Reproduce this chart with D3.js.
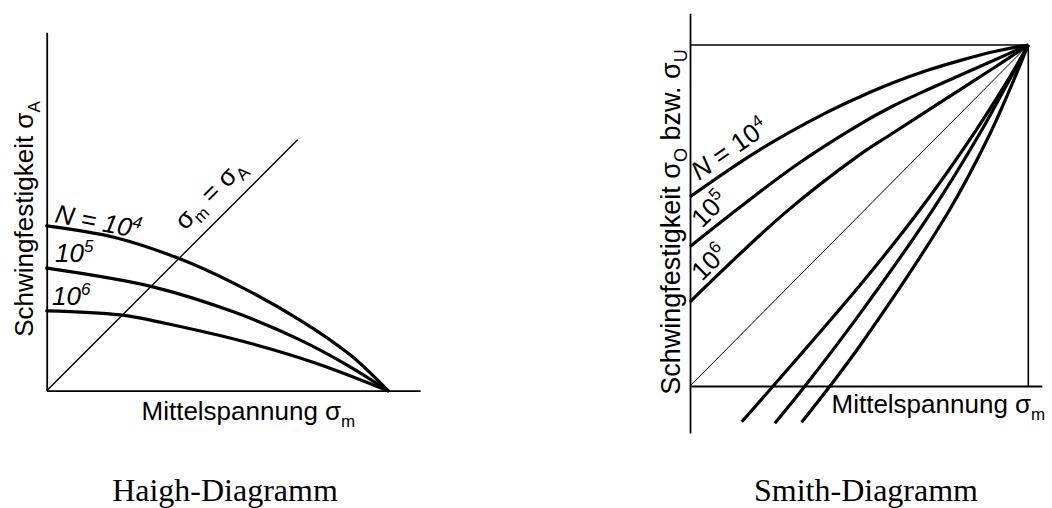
<!DOCTYPE html>
<html><head><meta charset="utf-8">
<script src="https://cdn.jsdelivr.net/npm/d3@7"></script>
<style>html,body{margin:0;padding:0;background:#fff;} svg{display:block}</style>
</head><body>
<svg id="c" width="1052" height="508"></svg>
<script>
// ---------- Haigh diagram data (σm, σA) ----------
const haighN4 = [[0,48.3],[20,44.9],[38.6,38.8],[54.6,31.6],[74.2,20.7],[88.9,10.5],[100,0]];
const haighN5 = [[0,35.9],[30.8,30.5],[54.7,23.1],[74.2,14.9],[88.9,7.0],[100,0]];
const haighN6 = [[0,23.4],[21.5,22.2],[39.1,18.8],[59.6,13.9],[79.1,8.0],[100,0]];
const haighDiag = [[0,0],[73.5,73.5]];
// ---------- Smith diagram data (σm, σO / σU) ----------
const smithUpper4 = [[0,55.5],[20,68.9],[40,80.0],[50,84.7],[60,88.9],[70,92.5],[80,95.5],[90,98.1],[100,100]];
const smithUpper5 = [[0,40.9],[31.0,64.5],[50.3,76.8],[60,82.1],[70,86.8],[80,91.2],[90,95.6],[100,100]];
const smithUpper6 = [[0,24.7],[28,50.7],[50,67.7],[60,74.2],[70,80.6],[80,87.0],[90,93.4],[100,100]];
const smithLower4 = [[15.3,-10.5],[24.6,0],[50.3,29.6],[67.9,51.6],[83.6,73.6],[93.1,88.3],[100,100]];
const smithLower5 = [[25.1,-10.9],[34.0,0],[50.3,21.3],[71.7,51.6],[85.4,73.6],[93.6,88.3],[100,100]];
const smithLower6 = [[33.0,-10.6],[41.4,0],[50.8,12.6],[76.7,51.6],[88.5,73.6],[95.1,88.3],[100,100]];
const smithDiag = [[0,0],[100,100]];
// ---------- texts ----------
const cycleExponents = ["4","5","6"];
const xTitle = "Mittelspannung";
const yTitle = "Schwingfestigkeit";
const captions = ["Haigh-Diagramm","Smith-Diagramm"];

const SANS = "'Liberation Sans', Arial, Helvetica, sans-serif";
const SERIF = "'Liberation Serif', 'Times New Roman', serif";
const svg = d3.select("#c");

// ================= HAIGH =================
{
  const x = d3.scaleLinear().domain([0,100]).range([46.7,388]);
  const y = d3.scaleLinear().domain([0,100]).range([390.7,49.4]);
  const g = svg.append("g");
  const line = d3.line().x(d=>x(d[0])).y(d=>y(d[1])).curve(d3.curveCatmullRom.alpha(0.5));

  const xa = d3.scaleLinear().domain([0,109.4]).range([x(0), x(109.4)]);
  const ya = d3.scaleLinear().domain([0,105]).range([y(0), y(105)]);
  g.append("g").attr("transform",`translate(0,${y(0)})`)
    .call(d3.axisBottom(xa).tickValues([]).tickSizeOuter(0))
    .select(".domain").attr("stroke","#000").attr("stroke-width",1.8);
  g.append("g").attr("transform",`translate(${x(0)},0)`)
    .call(d3.axisLeft(ya).tickValues([]).tickSizeOuter(0))
    .select(".domain").attr("stroke","#000").attr("stroke-width",1.8);

  g.append("path").datum(haighDiag).attr("d", d3.line().x(d=>x(d[0])).y(d=>y(d[1])))
    .attr("fill","none").attr("stroke","#000").attr("stroke-width",1.4);
  [haighN4, haighN5, haighN6].forEach(s=>{
    g.append("path").datum(s).attr("d", line)
      .attr("fill","none").attr("stroke","#000").attr("stroke-width",3.2).attr("stroke-linecap","round");
  });

  const t4 = g.append("text").attr("font-family",SANS).attr("font-size",26).attr("font-style","italic")
    .attr("transform","translate(54,222) rotate(11)");
  t4.append("tspan").text("N = 10");
  t4.append("tspan").attr("dy",-10).attr("font-size",17).text(cycleExponents[0]);
  [[55,262,cycleExponents[1]],[52,305,cycleExponents[2]]].forEach(([lx,ly,e])=>{
    const t = g.append("text").attr("font-family",SANS).attr("font-size",26).attr("font-style","italic")
      .attr("x",lx).attr("y",ly);
    t.append("tspan").text("10");
    t.append("tspan").attr("dy",-10).attr("font-size",17).text(e);
  });
  const td = g.append("text").attr("font-family",SANS).attr("font-size",26)
    .attr("transform","translate(185,231) rotate(-45)");
  td.append("tspan").text("σ");
  td.append("tspan").attr("dy",6).attr("font-size",17).text("m");
  td.append("tspan").attr("dy",-6).text(" = σ");
  td.append("tspan").attr("dy",6).attr("font-size",17).text("A");

  const xt = g.append("text").attr("font-family",SANS).attr("font-size",26).attr("x",141.5).attr("y",420);
  xt.append("tspan").text(xTitle+" σ");
  xt.append("tspan").attr("dy",7).attr("font-size",17).text("m");
  const yt = g.append("text").attr("font-family",SANS).attr("font-size",26)
    .attr("text-anchor","middle").attr("transform","translate(33,219) rotate(-90)");
  yt.append("tspan").text(yTitle+" σ");
  yt.append("tspan").attr("dy",7).attr("font-size",17).text("A");

  g.append("text").attr("font-family",SERIF).attr("font-size",32).attr("text-anchor","middle")
    .attr("x",225).attr("y",501).text(captions[0]);
}

// ================= SMITH =================
{
  const x = d3.scaleLinear().domain([0,100]).range([690,1028.3]);
  const y = d3.scaleLinear().domain([0,100]).range([386,45]);
  const g = svg.append("g");
  const line = d3.line().x(d=>x(d[0])).y(d=>y(d[1])).curve(d3.curveCatmullRom.alpha(0.5));
  const straight = d3.line().x(d=>x(d[0])).y(d=>y(d[1]));

  const xa = d3.scaleLinear().domain([0,104]).range([x(0), x(104)]);
  const ya = d3.scaleLinear().domain([-13.8,109.3]).range([y(-13.8), y(109.3)]);
  g.append("g").attr("transform",`translate(0,${y(0)})`)
    .call(d3.axisBottom(xa).tickValues([]).tickSizeOuter(0))
    .select(".domain").attr("stroke","#000").attr("stroke-width",1.8);
  g.append("g").attr("transform",`translate(${x(0)},0)`)
    .call(d3.axisLeft(ya).tickValues([]).tickSizeOuter(0))
    .select(".domain").attr("stroke","#000").attr("stroke-width",1.8);
  g.append("path").datum([[0,100],[100,100]]).attr("d",straight).attr("stroke","#000").attr("stroke-width",1.6).attr("fill","none");
  g.append("path").datum([[100,0],[100,100]]).attr("d",straight).attr("stroke","#000").attr("stroke-width",1.6).attr("fill","none");
  g.append("path").datum(smithDiag).attr("d",straight).attr("stroke","#000").attr("stroke-width",1).attr("fill","none");

  [smithUpper4, smithUpper5, smithUpper6, smithLower4, smithLower5, smithLower6].forEach(s=>{
    g.append("path").datum(s).attr("d", line)
      .attr("fill","none").attr("stroke","#000").attr("stroke-width",3.2);
  });

  const n4 = g.append("text").attr("font-family",SANS).attr("font-size",26)
    .attr("transform","translate(699,181) rotate(-35)");
  n4.append("tspan").attr("font-style","italic").text("N");
  n4.append("tspan").text(" = 10");
  n4.append("tspan").attr("dy",-10).attr("font-size",17).text(cycleExponents[0]);
  [[702,229,cycleExponents[1]],[702,282,cycleExponents[2]]].forEach(([lx,ly,e])=>{
    const t = g.append("text").attr("font-family",SANS).attr("font-size",26)
      .attr("transform",`translate(${lx},${ly}) rotate(-45)`);
    t.append("tspan").text("10");
    t.append("tspan").attr("dy",-10).attr("font-size",17).text(e);
  });

  const xt = g.append("text").attr("font-family",SANS).attr("font-size",26).attr("x",831.5).attr("y",412.5);
  xt.append("tspan").text(xTitle+" σ");
  xt.append("tspan").attr("dy",7).attr("font-size",17).text("m");
  const yt = g.append("text").attr("font-family",SANS).attr("font-size",27)
    .attr("text-anchor","middle").attr("transform","translate(680,222) rotate(-90)");
  yt.append("tspan").text(yTitle+" σ");
  yt.append("tspan").attr("dy",7).attr("font-size",18).text("O");
  yt.append("tspan").attr("dy",-7).text(" bzw. σ");
  yt.append("tspan").attr("dy",7).attr("font-size",18).text("U");

  g.append("text").attr("font-family",SERIF).attr("font-size",32).attr("text-anchor","middle")
    .attr("x",866).attr("y",501).text(captions[1]);
}
</script>
</body></html>
